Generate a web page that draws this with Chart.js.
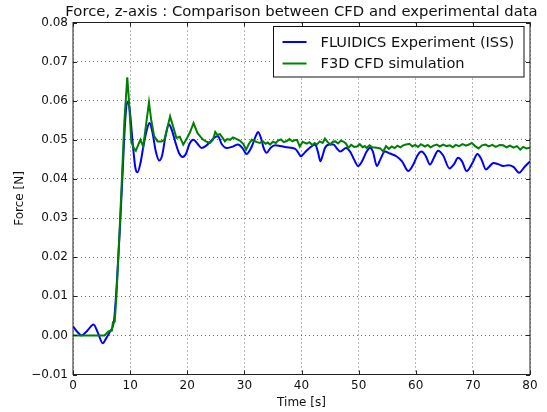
<!DOCTYPE html>
<html>
<head>
<meta charset="utf-8">
<script src="https://cdn.jsdelivr.net/npm/chart.js@4/dist/chart.umd.min.js"></script>
<style>
  html, body { margin: 0; padding: 0; background: #fff; }
  #wrap { width: 547px; height: 412px; }
</style>
</head>
<body>
<div id="wrap"><canvas id="forceChart" width="547" height="412"></canvas></div>
<script>
// Données
const chartTitle = 'Force, z-axis : Comparison between CFD and experimental data';
const xTitle = 'Time [s]';
const yTitle = 'Force [N]';
const xTicks = [0, 10, 20, 30, 40, 50, 60, 70, 80];
const yTicks = [-0.01, 0, 0.01, 0.02, 0.03, 0.04, 0.05, 0.06, 0.07, 0.08];

const expLabel = 'FLUIDICS Experiment (ISS)';
const expTime = [0, 0.7, 1.5, 2.5, 3.6, 4.4, 5.2, 5.9, 6.5, 7.2, 7.7, 8.2, 8.7, 9.1, 9.5, 9.9, 10.4, 10.9, 11.3, 11.8,
  12.4, 13.0, 13.4, 13.9, 14.5, 15.1, 15.6, 16.2, 16.8, 17.3, 18.0, 18.6, 19.2, 19.8, 20.4, 21.1, 21.8, 22.5, 23.3, 24.2,
  25.0, 25.4, 26.0, 26.9, 27.8, 28.9, 29.7, 30.4, 31.3, 32.0, 32.4, 32.9, 33.4, 33.9, 34.6, 35.4, 36.3, 37.4, 38.9, 39.4,
  39.9, 40.6, 41.4, 42.4, 42.9, 43.3, 43.7, 44.1, 44.9, 45.6, 46.2, 46.8, 47.8, 48.5, 49.2, 49.9, 50.6, 51.4, 52.0, 52.5,
  53.2, 53.8, 54.6, 55.5, 56.6, 57.6, 58.7, 59.5, 60.3, 61.0, 61.7, 62.5, 63.2, 63.9, 64.8, 65.9, 66.7, 67.4, 68.1, 68.9,
  69.9, 70.8, 71.5, 72.3, 72.9, 73.6, 74.4, 75.3, 76.2, 77.1, 78.1, 79.0, 80];
const expForce = [0.0023, 0.001, 0.0, 0.0012, 0.0028, 0.0005, -0.002, -0.0005, 0.001, 0.004, 0.014, 0.027, 0.042, 0.054, 0.0598, 0.058, 0.050, 0.043, 0.0417, 0.044,
  0.049, 0.053, 0.0543, 0.052, 0.047, 0.0447, 0.046, 0.051, 0.0539, 0.0525, 0.049, 0.0465, 0.0456, 0.0465, 0.049, 0.050, 0.049, 0.0479, 0.0485, 0.0498,
  0.0508, 0.0509, 0.049, 0.0479, 0.0482, 0.0488, 0.0478, 0.0464, 0.0483, 0.051, 0.052, 0.0505, 0.0478, 0.0467, 0.048, 0.0486, 0.0484, 0.0481, 0.0477, 0.0468,
  0.0458, 0.0468, 0.0479, 0.0488, 0.0468, 0.0445, 0.046, 0.0479, 0.0488, 0.0488, 0.0478, 0.047, 0.0479, 0.047, 0.045, 0.0433, 0.0445, 0.047, 0.048, 0.047,
  0.0433, 0.045, 0.047, 0.0465, 0.0458, 0.0445, 0.042, 0.0435, 0.046, 0.047, 0.046, 0.0437, 0.0455, 0.0472, 0.046, 0.0427, 0.0438, 0.0454, 0.0445, 0.042,
  0.044, 0.0464, 0.045, 0.0424, 0.0432, 0.0441, 0.0438, 0.0433, 0.0435, 0.0431, 0.0416, 0.043, 0.0445];

const cfdLabel = 'F3D CFD simulation';
const cfdTime = [0, 5.5, 6.2, 6.8, 7.0, 7.3, 7.6, 8.0, 8.5, 9.0, 9.5, 9.8, 10.2, 10.6, 11.0, 11.5, 11.8, 12.3, 12.8, 13.3,
  13.7, 14.2, 14.8, 15.5, 16.0, 16.5, 17.0, 17.5, 18.1, 18.7, 19.3, 19.8, 20.5, 21.1, 21.8, 22.3, 22.8, 23.4, 24.0, 24.5,
  24.9, 25.3, 25.7, 26.2, 26.6, 27.0, 27.5, 28.0, 28.5, 29.2, 29.8, 30.3, 30.8, 31.3, 31.8, 32.2, 32.7, 33.2, 33.7, 34.1,
  34.5, 35.0, 35.5, 35.9, 36.4, 36.9, 37.4, 37.9, 38.4, 38.8, 39.2, 39.7, 40.2, 40.9, 41.4, 41.9, 42.3, 42.7, 43.2, 43.7,
  44.1, 44.6, 45.0, 45.5, 45.9, 46.4, 46.9, 47.4, 47.8, 48.2, 48.7, 49.2, 49.7, 50.2, 50.7, 51.1, 51.4, 51.9, 52.4, 53.2,
  53.8, 54.3, 54.8, 55.3, 55.8, 56.3, 56.8, 57.3, 57.8, 58.3, 58.9, 59.4, 59.9, 60.4, 60.9, 61.6, 62.1, 62.6, 63.2, 63.7,
  64.2, 64.8, 65.4, 66.0, 66.5, 67.0, 67.6, 68.2, 68.8, 69.3, 69.8, 70.4, 71.0, 71.6, 72.2, 72.8, 73.4, 74.0, 74.7, 75.3,
  75.9, 76.5, 77.1, 77.7, 78.3, 78.8, 79.4, 80];
const cfdForce = [0, 0, 0.001, 0.0012, 0.0034, 0.0035, 0.010, 0.022, 0.038, 0.055, 0.066, 0.060, 0.0496, 0.048, 0.0472, 0.049, 0.050, 0.0483, 0.054, 0.0596,
  0.055, 0.051, 0.0496, 0.0496, 0.050, 0.053, 0.056, 0.0535, 0.0505, 0.0508, 0.0488, 0.050, 0.052, 0.0543, 0.0517, 0.0508, 0.050, 0.0495, 0.0492, 0.050,
  0.052, 0.0512, 0.0515, 0.0505, 0.0496, 0.0502, 0.050, 0.0506, 0.0503, 0.0498, 0.049, 0.0475, 0.049, 0.050, 0.0497, 0.0494, 0.0492, 0.0497, 0.049, 0.0493,
  0.0488, 0.0495, 0.0492, 0.0498, 0.0501, 0.0494, 0.0497, 0.0502, 0.0496, 0.0499, 0.050, 0.0483, 0.0495, 0.049, 0.0494, 0.0487, 0.0492, 0.0488, 0.0496, 0.0492,
  0.0503, 0.0494, 0.0488, 0.0495, 0.0496, 0.0491, 0.0498, 0.0495, 0.049, 0.0479, 0.0487, 0.0482, 0.0483, 0.0489, 0.0481, 0.0484, 0.0479, 0.0486, 0.0481, 0.048,
  0.0478, 0.047, 0.0484, 0.0477, 0.0483, 0.0479, 0.0485, 0.0481, 0.0486, 0.0488, 0.049, 0.0483, 0.0487, 0.0482, 0.0489, 0.0483, 0.0487, 0.0481, 0.0486, 0.0488,
  0.0483, 0.0488, 0.0484, 0.0486, 0.0481, 0.0487, 0.0484, 0.0489, 0.0485, 0.0488, 0.0492, 0.0484, 0.0478, 0.0486, 0.0488, 0.0483, 0.0487, 0.0482, 0.0487, 0.0486,
  0.0481, 0.0485, 0.048, 0.0484, 0.0475, 0.0482, 0.0478, 0.048];

const FONT = '"DejaVu Sans", sans-serif';

function toPoints(xs, ys) {
    return xs.map((x, i) => ({ x: x, y: ys[i] }));
}

// Cadre noir + graduations vers l'intérieur (style matplotlib classique)
const framePlugin = {
    id: 'frame',
    afterDatasetsDraw(chart) {
        const { ctx, chartArea: a, scales } = chart;
        ctx.save();
        ctx.strokeStyle = '#222';
        ctx.lineWidth = 1;
        ctx.beginPath();
        xTicks.forEach(v => {
            const px = Math.round(scales.x.getPixelForValue(v)) + 0.5;
            ctx.moveTo(px, a.bottom); ctx.lineTo(px, a.bottom - 4);
            ctx.moveTo(px, a.top); ctx.lineTo(px, a.top + 4);
        });
        yTicks.forEach(v => {
            const py = Math.round(scales.y.getPixelForValue(v)) + 0.5;
            ctx.moveTo(a.left, py); ctx.lineTo(a.left + 4, py);
            ctx.moveTo(a.right, py); ctx.lineTo(a.right - 4, py);
        });
        ctx.stroke();
        ctx.strokeRect(a.left, a.top, a.right - a.left, a.bottom - a.top);

        // Titre centré sur la zone du graphique (sans compression du texte)
        ctx.fillStyle = '#111';
        ctx.font = '14.8px ' + FONT;
        ctx.textAlign = 'center';
        ctx.textBaseline = 'middle';
        ctx.fillText(chartTitle, (a.left + a.right) / 2, a.top - 10.5);

        // Légende en haut à droite, à l'intérieur du graphique
        const bx = a.right - 256.5, by = a.top + 4, bw = 250.5, bh = 50.5;
        ctx.fillStyle = '#fff';
        ctx.fillRect(bx, by, bw, bh);
        ctx.strokeStyle = '#111';
        ctx.strokeRect(bx, by, bw, bh);
        ctx.font = '14.6px ' + FONT;
        ctx.textAlign = 'left';
        chart.data.datasets.forEach((ds, i) => {
            const ly = by + 15.5 + i * 21.5;
            ctx.strokeStyle = ds.borderColor;
            ctx.lineWidth = 2;
            ctx.beginPath();
            ctx.moveTo(bx + 9, ly); ctx.lineTo(bx + 33, ly);
            ctx.stroke();
            ctx.fillStyle = '#111';
            ctx.fillText(ds.label, bx + 47, ly + 1);
        });
        ctx.restore();
    }
};

const ctx = document.getElementById('forceChart').getContext('2d');
const forceChart = new Chart(ctx, {
    type: 'line',
    data: {
        datasets: [
            {
                label: expLabel,
                data: toPoints(expTime, expForce),
                borderColor: '#0000ff',
                borderWidth: 2,
                pointRadius: 0,
                cubicInterpolationMode: 'monotone',
                order: 1
            },
            {
                label: cfdLabel,
                data: toPoints(cfdTime, cfdForce),
                borderColor: '#008000',
                borderWidth: 2,
                pointRadius: 0,
                tension: 0,
                order: 0
            }
        ]
    },
    options: {
        responsive: false,
        animation: false,
        layout: { padding: { left: 0, right: 17, top: 22.5, bottom: 0 } },
        plugins: {
            legend: { display: false },
            tooltip: { enabled: false },
            title: { display: false }
        },
        scales: {
            x: {
                type: 'linear',
                min: 0,
                max: 80,
                afterFit: s => { s.height = 37.5; },
                afterBuildTicks: s => { s.ticks = xTicks.map(v => ({ value: v })); },
                ticks: {
                    color: '#111',
                    font: { family: FONT, size: 12 },
                    padding: 4,
                    maxRotation: 0,
                    callback: v => String(v)
                },
                grid: { color: 'rgba(0,0,0,0.55)', lineWidth: 1, drawTicks: false },
                border: { display: false, dash: [1, 3] },
                title: {
                    display: true,
                    text: xTitle,
                    color: '#111',
                    font: { family: FONT, size: 12, lineHeight: 1.2 },
                    padding: { top: 0, bottom: 1.8 }
                }
            },
            y: {
                type: 'linear',
                min: -0.01,
                max: 0.08,
                afterFit: s => { s.width = 73; },
                afterBuildTicks: s => { s.ticks = yTicks.map(v => ({ value: v })); },
                ticks: {
                    color: '#111',
                    font: { family: FONT, size: 12 },
                    padding: 5,
                    callback: v => v.toFixed(2).replace('-', '\u2212')
                },
                grid: { color: 'rgba(0,0,0,0.55)', lineWidth: 1, drawTicks: false },
                border: { display: false, dash: [1, 3] },
                title: {
                    display: true,
                    text: yTitle,
                    color: '#111',
                    font: { family: FONT, size: 12, lineHeight: 1.2 },
                    padding: { top: 12.8, bottom: 0 }
                }
            }
        }
    },
    plugins: [framePlugin]
});
</script>
</body>
</html>
